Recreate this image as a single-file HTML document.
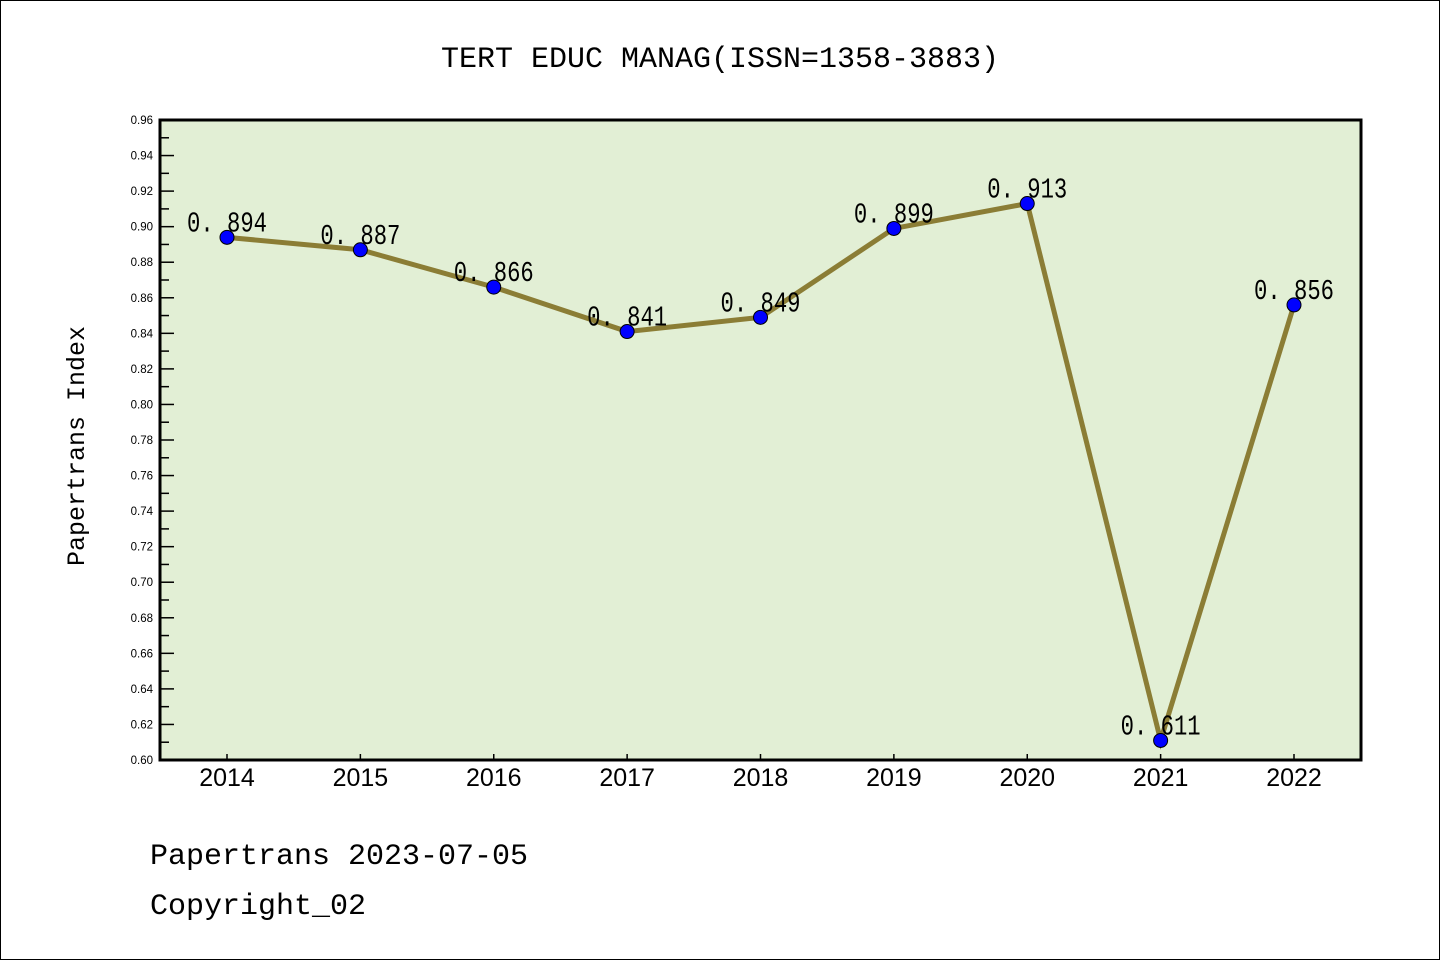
<!DOCTYPE html>
<html><head><meta charset="utf-8"><style>
body{margin:0;background:#fff}
svg{display:block}
</style></head><body>
<svg id="chart" width="1440" height="960" xmlns="http://www.w3.org/2000/svg">
<rect x="0.5" y="0.5" width="1439" height="959" fill="#fff" stroke="#000"/>
<text x="720" y="67" text-anchor="middle" font-family="Liberation Mono, monospace" font-size="30">TERT EDUC MANAG(ISSN=1358-3883)</text>
<rect x="160" y="120" width="1201" height="640" fill="#e2efd5"/>
<g id="yaxis"></g>
<g id="xaxis"></g>
<g id="series"></g>
<rect x="160" y="120" width="1201" height="640" fill="none" stroke="#000" stroke-width="3"/>
<text transform="translate(84,446) rotate(-90)" text-anchor="middle" font-family="Liberation Mono, monospace" font-size="25">Papertrans Index</text>
<text x="150" y="864" font-family="Liberation Mono, monospace" font-size="30">Papertrans 2023-07-05</text>
<text x="150" y="914" font-family="Liberation Mono, monospace" font-size="30">Copyright_02</text>
</svg>
<script>
const categories=["2014","2015","2016","2017","2018","2019","2020","2021","2022"];
const values=[0.894,0.887,0.866,0.841,0.849,0.899,0.913,0.611,0.856];
const valueLabels=["0.894","0.887","0.866","0.841","0.849","0.899","0.913","0.611","0.856"];
const yTicks=[0.60,0.62,0.64,0.66,0.68,0.70,0.72,0.74,0.76,0.78,0.80,0.82,0.84,0.86,0.88,0.90,0.92,0.94,0.96];
const NS="http://www.w3.org/2000/svg";
const yMin=0.60,yMax=0.96,yTop=120,yBot=760;
function y(v){return yBot-(v-yMin)/(yMax-yMin)*(yBot-yTop);}
function x(i){return 227+i*(1294-227)/(categories.length-1);}
function mk(t,a,p){const e=document.createElementNS(NS,t);for(const k in a)e.setAttribute(k,a[k]);p.appendChild(e);return e;}
const ya=document.getElementById('yaxis');
yTicks.forEach((v,i)=>{
  const l=mk('line',{x1:160,x2:174,y1:y(v),y2:y(v),stroke:'#000','stroke-width':1.5},ya);
  
  
  const t=mk('text',{x:153,y:y(v)+4,'text-anchor':'end','font-family':'Liberation Sans, sans-serif','font-size':11.5},ya);
  t.textContent=v.toFixed(2);
  
  
  if(i<yTicks.length-1){
    const m=mk('line',{x1:160,x2:169,y1:y(v+0.01),y2:y(v+0.01),stroke:'#000','stroke-width':1.5},ya);
    
    
  }
});
const xa=document.getElementById('xaxis');
categories.forEach((c,i)=>{
  const l=mk('line',{x1:x(i),x2:x(i),y1:yBot,y2:yBot-6,stroke:'#000','stroke-width':1.5},xa);
  
  
  const t=mk('text',{x:x(i),y:786,'text-anchor':'middle','font-family':'Liberation Sans, sans-serif','font-size':25},xa);
  t.textContent=c;
  
  
});
const s=document.getElementById('series');
const pl=mk('polyline',{points:values.map((v,i)=>x(i)+','+y(v)).join(' '),fill:'none',stroke:'#8b7d35','stroke-width':5},s);


values.forEach((v,i)=>{
  const c=mk('circle',{cx:x(i),cy:y(v),r:7,fill:'#0000ff',stroke:'#000','stroke-width':1},s);
  
  
  const t=mk('text',{x:x(i)-40,y:y(v)-6,'font-family':'Liberation Mono, monospace','font-size':29,textLength:80,lengthAdjust:'spacingAndGlyphs'},s);
  t.textContent=valueLabels[i].replace('.','. ');
  
  
});
</script>
</body></html>
